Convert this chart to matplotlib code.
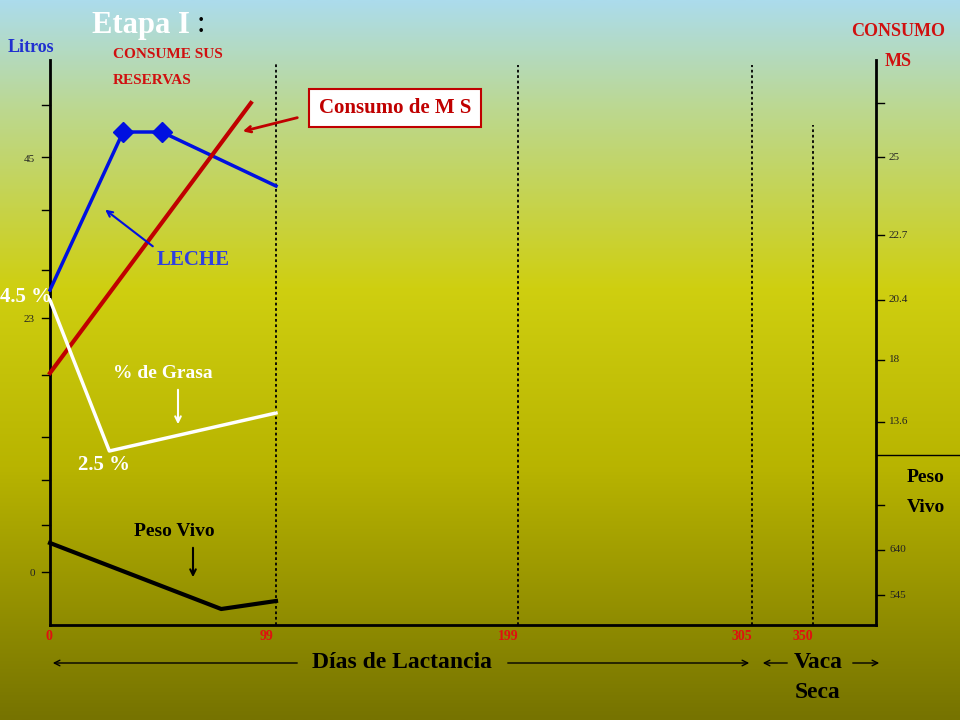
import numpy as np
import matplotlib
matplotlib.use("Agg")
import matplotlib.pyplot as plt

# Day axis (piecewise scale)
day_ticks = [0, 99, 199, 305, 350]
day_px = [50, 276, 518, 752, 813]

# Series (days, height in slide units measured from bottom)
leche_d = [0, 32, 49, 99];      leche_h = [430, 588, 588, 534]
ms_d = [0, 88];                 ms_h = [347, 617]
grasa_d = [0, 26, 99];          grasa_h = [420, 269, 307]
peso_d = [0, 75, 99];           peso_h = [177, 111, 119]

left_ticks = [615, 563, 510, 450, 402, 345, 283, 240, 195, 148]
left_labels = {563: "45", 402: "23", 148: "0"}
right_ticks = [617, 563, 485, 420, 360, 298, 215, 170, 125]
right_labels = {563: "25", 485: "22.7", 420: "20.4", 360: "18", 298: "13.6", 170: "640", 125: "545"}

def X(d):
    return np.interp(d, day_ticks, day_px)

fig = plt.figure(figsize=(9.6, 7.2), dpi=100)
ax = fig.add_axes([0, 0, 1, 1])
ax.set_xlim(0, 960); ax.set_ylim(0, 720); ax.axis("off")

from matplotlib.colors import LinearSegmentedColormap
cm = LinearSegmentedColormap.from_list("bg", [(0, "#767300"), (0.35, "#b8b400"), (0.6, "#cfcf10"), (0.85, "#bcd890"), (1, "#acdcec")])
grad = np.linspace(0, 1, 256).reshape(-1, 1)
ax.imshow(grad, extent=[0, 960, 0, 720], origin="lower", cmap=cm, aspect="auto", zorder=0)

k = dict(color="black", lw=2)
ax.plot([50, 50], [95, 660], **k)
ax.plot([50, 876], [95, 95], **k)
ax.plot([876, 876], [95, 660], **k)
ax.plot([876, 960], [265, 265], color="black", lw=1)
for t in left_ticks:
    ax.plot([42, 50], [t, t], color="black", lw=1)
    if t in left_labels:
        ax.text(35, t - 2, left_labels[t], ha="right", va="center", fontsize=8, family="Liberation Serif", color="#222")
for t in right_ticks:
    ax.plot([876, 884], [t, t], color="black", lw=1)
    if t in right_labels:
        ax.text(889, t, right_labels[t], ha="left", va="center", fontsize=8, family="Liberation Serif", color="#222")

for d, top in zip(day_ticks[1:], [657, 655, 655, 595]):
    ax.plot([X(d)] * 2, [95, top], color="black", lw=1.3, ls=(0, (1.5, 1.5)))
for d in day_ticks:
    ax.text(X(d) - (5 if d == 0 else 10), 80, str(d), color="#e01010", fontsize=10, weight="bold", family="Liberation Serif", ha="left" if d == 0 else "center")

ax.plot(X(leche_d), leche_h, color="#0010e0", lw=2.5)
ax.plot(X(leche_d[1:3]), leche_h[1:3], "D", color="#0010e0", ms=10)
ax.plot(X(ms_d), ms_h, color="#c00000", lw=3)
ax.plot(X(grasa_d), grasa_h, color="white", lw=2.5)
ax.plot(X(peso_d), peso_h, color="black", lw=3)

f = dict(family="Liberation Serif", weight="bold")
ax.text(92, 695, "Etapa I", fontsize=22, color="white", va="center", **f)
ax.text(197, 695, ":", fontsize=22, color="black", va="center", family="Liberation Serif")
ax.text(113, 665, "CONSUME SUS", fontsize=11, color="#d01010", va="center", **f)
ax.text(113, 640, "RESERVAS", fontsize=11, color="#d01010", va="center", **f)
ax.text(8, 672, "Litros", fontsize=13, color="#2030d0", va="center", **f)
ax.text(898, 688, "CONSUMO", fontsize=13, color="#d01010", va="center", ha="center", **f)
ax.text(898, 659, "MS", fontsize=13, color="#d01010", va="center", ha="center", **f)
ax.text(395, 612, "Consumo de M S", fontsize=15, color="#c00000", va="center", ha="center",
        bbox=dict(boxstyle="square,pad=0.45", fc="white", ec="#c00000", lw=1.5), **f)
ax.annotate("", xy=(240, 588), xytext=(300, 603), arrowprops=dict(arrowstyle="->", color="#c00000", lw=2))
ax.text(157, 460, "LECHE", fontsize=15, color="#3040e0", va="center", **f)
ax.annotate("", xy=(103, 512), xytext=(155, 472), arrowprops=dict(arrowstyle="->", color="#0010e0", lw=1.5))
ax.text(0, 423, "4.5 %", fontsize=15, color="white", va="center", **f)
ax.text(113, 346, "% de Grasa", fontsize=14, color="white", va="center", **f)
ax.annotate("", xy=(178, 293), xytext=(178, 333), arrowprops=dict(arrowstyle="->", color="white", lw=1.5))
ax.text(78, 255, "2.5 %", fontsize=15, color="white", va="center", **f)
ax.text(134, 188, "Peso Vivo", fontsize=14, color="black", va="center", **f)
ax.annotate("", xy=(193, 140), xytext=(193, 175), arrowprops=dict(arrowstyle="->", color="black", lw=1.5))
ax.text(926, 242, "Peso", fontsize=14, color="black", va="center", ha="center", **f)
ax.text(926, 213, "Vivo", fontsize=14, color="black", va="center", ha="center", **f)
ax.annotate("", xy=(50, 57), xytext=(300, 57), arrowprops=dict(arrowstyle="->", color="black", lw=1))
ax.annotate("", xy=(752, 57), xytext=(505, 57), arrowprops=dict(arrowstyle="->", color="black", lw=1))
ax.text(402, 57, "Días de Lactancia", fontsize=17, color="black", va="center", ha="center", **f)
ax.annotate("", xy=(760, 57), xytext=(790, 57), arrowprops=dict(arrowstyle="->", color="black", lw=1))
ax.annotate("", xy=(882, 57), xytext=(850, 57), arrowprops=dict(arrowstyle="->", color="black", lw=1))
ax.text(818, 57, "Vaca", fontsize=17, color="black", va="center", ha="center", **f)
ax.text(818, 27, "Seca", fontsize=17, color="black", va="center", ha="center", **f)

fig.savefig("out.png", dpi=100)
